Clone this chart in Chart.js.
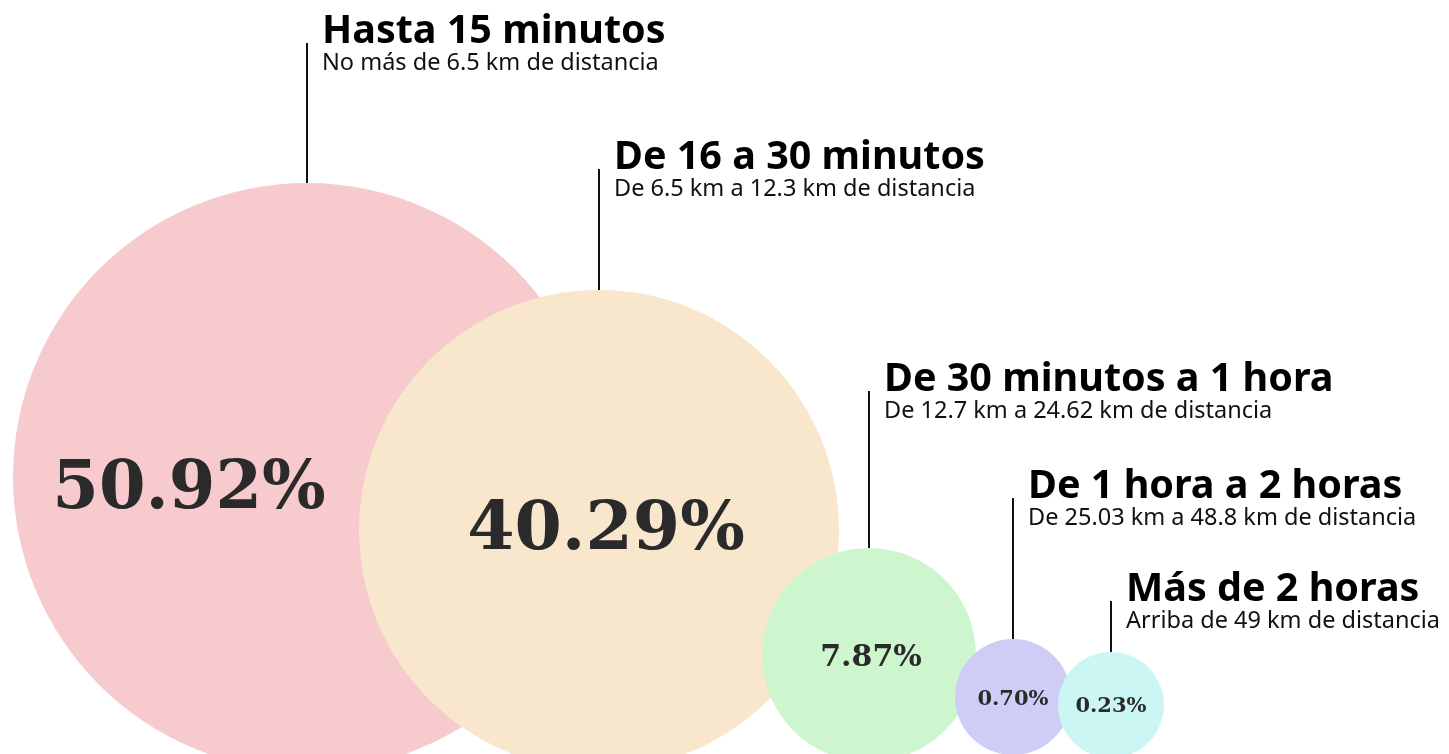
<!DOCTYPE html>
<html>
<head>
<meta charset="utf-8">
<script src="https://cdn.jsdelivr.net/npm/chart.js@4/dist/chart.umd.min.js"></script>
<style>
  html, body { margin: 0; padding: 0; background: #ffffff; }
  #wrap { width: 1449px; height: 754px; }
</style>
</head>
<body>
<div id="wrap"><canvas id="c" width="1449" height="754"></canvas></div>
<script>
// ---- data ----
const categories = ["Hasta 15 minutos", "De 16 a 30 minutos", "De 30 minutos a 1 hora", "De 1 hora a 2 horas", "Más de 2 horas"];
const subtitles = ["No más de 6.5 km de distancia", "De 6.5 km a 12.3 km de distancia", "De 12.7 km a 24.62 km de distancia", "De 25.03 km a 48.8 km de distancia", "Arriba de 49 km de distancia"];
const percentages = [50.92, 40.29, 7.87, 0.70, 0.23];
const bubbleX = [307, 599, 869, 1013, 1111];
const bubbleY = [477, 530, 655, 697, 705];
const bubbleR = [294, 240, 107, 58, 53];
const labelY = [43, 169, 391, 498, 601];

// ---- styles ----
const colors = ["#F7CACD", "#F8E6CD", "#CEF6CE", "#CDCDF5", "#CCF6F3"];
const pctFontSize = [67, 68, 30, 21, 21];
const pctShiftX = [-118, 7, 2, 0, 0];
const pctShiftY = [31, 19, 11, 8, 7];

const labelPlugin = {
  id: 'bubbleLabels',
  afterDatasetsDraw(chart) {
    const ctx = chart.ctx;
    const ys = chart.scales.y;
    const meta = chart.getDatasetMeta(0);
    ctx.save();
    meta.data.forEach((el, i) => {
      const cx = el.x, cy = el.y, r = el.options.radius;
      const ty = ys.getPixelForValue(labelY[i]);
      // connector line
      ctx.strokeStyle = '#111111';
      ctx.lineWidth = 2;
      ctx.beginPath();
      ctx.moveTo(Math.round(cx), ty);
      ctx.lineTo(Math.round(cx), cy - r);
      ctx.stroke();
      // title + subtitle
      ctx.fillStyle = '#000000';
      ctx.textAlign = 'left';
      ctx.textBaseline = 'alphabetic';
      ctx.font = "700 39.5px 'Noto Sans'";
      ctx.fillText(categories[i], cx + 15, ty);
      ctx.fillStyle = '#111111';
      ctx.font = "400 23.5px 'Noto Sans'";
      ctx.fillText(subtitles[i], cx + 15, ty + 27);
      // percentage
      ctx.fillStyle = '#2a2a2a';
      ctx.textAlign = 'center';
      ctx.font = "700 " + pctFontSize[i] + "px 'DejaVu Serif'";
      ctx.fillText(percentages[i].toFixed(2) + '%', cx + pctShiftX[i], cy + pctShiftY[i]);
    });
    ctx.restore();
  }
};

new Chart(document.getElementById('c'), {
  type: 'bubble',
  data: {
    datasets: [{
      data: categories.map((c, i) => ({ x: bubbleX[i], y: bubbleY[i], r: bubbleR[i] })),
      backgroundColor: colors,
      borderWidth: 0,
      hoverRadius: 0,
      hoverBorderWidth: 0,
      clip: false
    }]
  },
  options: {
    responsive: false,
    animation: false,
    events: [],
    layout: { padding: 0, autoPadding: false },
    plugins: { legend: { display: false }, tooltip: { enabled: false } },
    scales: {
      x: { type: 'linear', display: false, min: 0, max: 1449 },
      y: { type: 'linear', display: false, min: 0, max: 754, reverse: true }
    }
  },
  plugins: [labelPlugin]
});
</script>
</body>
</html>
